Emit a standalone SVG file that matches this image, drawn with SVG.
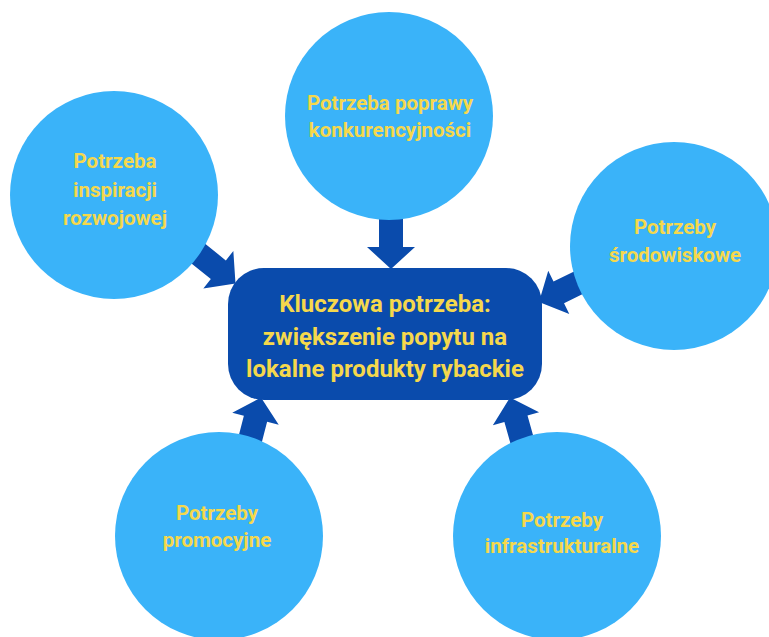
<svg xmlns="http://www.w3.org/2000/svg" width="769" height="637" viewBox="0 0 769 637">
<style>
.bubble{fill:#3AB3F9}
.arrow{fill:#0A4BAC}
.core{fill:#0A4BAC}
text{font-family:Roboto,"Liberation Sans",sans-serif;font-weight:700;fill:#F5D84C;text-anchor:middle}
.small{font-size:20.5px}
.big{font-size:24px}
</style>
<defs>
<polygon id="arr" points="0,0 -22,-24 -22,-12 -62,-12 -62,12 -22,12 -22,24"/>
</defs>
<rect width="769" height="637" fill="#ffffff"/>
<g id="connectors" class="arrow">
<use href="#arr" transform="translate(391,269) rotate(90)"/>
<use href="#arr" transform="translate(235.5,283.5) rotate(38.7)"/>
<use href="#arr" transform="translate(539,302) rotate(154)"/>
<use href="#arr" transform="translate(261,397.5) rotate(-75.5)"/>
<use href="#arr" transform="translate(510,397.5) rotate(-105.7)"/>
</g>
<g id="node-top">
<circle class="bubble" cx="389" cy="116" r="104"/>
<text class="small" x="390" y="110">Potrzeba poprawy</text>
<text class="small" x="390" y="137">konkurencyjności</text>
</g>
<g id="node-left">
<circle class="bubble" cx="114" cy="195" r="104"/>
<text class="small" x="115" y="168">Potrzeba</text>
<text class="small" x="115" y="197">inspiracji</text>
<text class="small" x="115" y="225">rozwojowej</text>
</g>
<g id="node-right">
<circle class="bubble" cx="674" cy="246" r="104"/>
<text class="small" x="675" y="234">Potrzeby</text>
<text class="small" x="675" y="262">środowiskowe</text>
</g>
<g id="node-bottom-left">
<circle class="bubble" cx="219" cy="536" r="104"/>
<text class="small" x="217" y="520">Potrzeby</text>
<text class="small" x="217" y="547">promocyjne</text>
</g>
<g id="node-bottom-right">
<circle class="bubble" cx="557" cy="536" r="104"/>
<text class="small" x="562" y="527">Potrzeby</text>
<text class="small" x="562" y="553">infrastrukturalne</text>
</g>
<g id="node-center">
<rect class="core" x="228" y="268" width="314" height="132" rx="36" ry="36"/>
<text class="big" x="385" y="312">Kluczowa potrzeba:</text>
<text class="big" x="385" y="345">zwiększenie popytu na</text>
<text class="big" x="385" y="377">lokalne produkty rybackie</text>
</g>
</svg>
